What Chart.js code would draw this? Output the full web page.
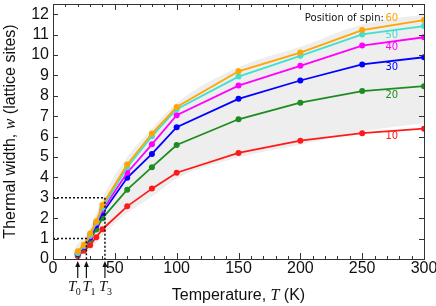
<!DOCTYPE html>
<html>
<head>
<meta charset="utf-8">
<script src="https://cdn.jsdelivr.net/npm/chart.js@4.4.1/dist/chart.umd.min.js"></script>
<style>
html,body{margin:0;padding:0;background:#fff;}
</style>
</head>
<body>
<canvas id="thermalChart" width="436" height="306"></canvas>
<script>

/* ==========================================
   DATA
========================================== */

const temps = [20,25,30,35,40,60,80,100,150,200,250,300];

const spin10 = [0.15,0.40,0.68,1.07,1.46,2.58,3.45,4.23,5.20,5.80,6.17,6.39];
const spin20 = [0.22,0.55,0.95,1.45,2.00,3.40,4.50,5.59,6.85,7.66,8.23,8.47];
const spin30 = [0.25,0.60,1.05,1.65,2.25,3.98,5.15,6.46,7.85,8.75,9.54,9.89];
const spin40 = [0.28,0.62,1.10,1.75,2.40,4.23,5.62,7.05,8.50,9.47,10.46,10.87];
const spin50 = [0.30,0.65,1.15,1.80,2.50,4.50,6.02,7.34,8.94,9.96,11.01,11.42];
const spin60 = [0.38,0.70,1.25,1.85,2.65,4.63,6.15,7.45,9.20,10.12,11.22,11.71];

const spinNames = ["10","20","30","40","50","60"];
const spinLabelY = [5.99,8.03,9.39,10.36,10.95,11.77];

// gray band (range)
const bandTemps = [18,30,40,60,80,100,150,200,250,300];
const bandLow  = [0.05,0.45,1.15,2.25,3.05,3.95,4.98,5.60,6.25,6.65];
const bandHigh = [0.60,1.55,3.00,5.00,6.40,7.65,9.40,10.40,11.50,12.00];

// characteristic temperatures
const markNames = ["0","1","3"];
const markTemps = [20,27,42];
const markWidths = [null,1,3];

const xTicks = [0,50,100,150,200,250,300];
const yTicks = [0,1,2,3,4,5,6,7,8,9,10,11,12];

/* ==========================================
   HELPERS
========================================== */

const colors = ["#ff1a1a","#1f8c1f","#0000ff","#ff00ff","#40e0d0","#ffa500"];

// label nudges so T0 / T1 do not collide
const markShift = [-3,3,1];

function pts(xs,ys){

    return xs.map((x,i)=>({x:x,y:ys[i]}));

}

function spinSet(values,i){

    return {

        data:pts(temps,values),

        borderColor:colors[i],

        backgroundColor:colors[i],

        borderWidth:1.8,

        pointRadius:3,

        pointBorderWidth:0,

        order:6-i

    };

}

function dottedSet(points){

    return {

        data:points,

        borderColor:"#111",

        borderWidth:1.5,

        borderDash:[2,2],

        pointRadius:0,

        order:0

    };

}

function noPad(scale){

    scale.paddingTop = 0;
    scale.paddingBottom = 0;
    scale.paddingLeft = 0;
    scale.paddingRight = 0;

}

const datasets = [];

// =============================
// BAND
// =============================

datasets.push({
    data:pts(bandTemps,bandLow),
    borderWidth:0,
    pointRadius:0,
    fill:false,
    cubicInterpolationMode:"monotone",
    order:20
});

datasets.push({
    data:pts(bandTemps,bandHigh),
    borderWidth:0,
    pointRadius:0,
    fill:"-1",
    backgroundColor:"#eeeeee",
    cubicInterpolationMode:"monotone",
    order:19
});

// =============================
// SPIN SERIES
// =============================

[spin10,spin20,spin30,spin40,spin50,spin60].forEach((s,i)=>{

    datasets.push(spinSet(s,i));

});

// =============================
// DOTTED GUIDES
// =============================

markWidths.forEach((w,i)=>{

    if(w===null) return;

    datasets.push(dottedSet([
        {x:0,y:w},
        {x:markTemps[i],y:w},
        {x:markTemps[i],y:0}
    ]));

});

/* ==========================================
   FRAME, TICKS, TITLES, LABELS
========================================== */

const decor = {

    id:"decor",

    afterDraw(chart){

        const ctx = chart.ctx;
        const a = chart.chartArea;
        const x = chart.scales.x;
        const y = chart.scales.y;

        ctx.save();

        ctx.strokeStyle = "#333";
        ctx.lineWidth = 1;

        ctx.strokeRect(Math.round(a.left)+0.5,Math.round(a.top)+0.5,
            Math.round(a.right-a.left),Math.round(a.bottom-a.top));

        ctx.beginPath();

        for(let t=0;t<=300;t+=10){

            const px = Math.round(x.getPixelForValue(t))+0.5;
            const len = t%50===0 ? 6 : 3;

            ctx.moveTo(px,a.bottom);
            ctx.lineTo(px,a.bottom-len);
            ctx.moveTo(px,a.top);
            ctx.lineTo(px,a.top+len);

        }

        yTicks.forEach(w=>{

            const py = Math.round(y.getPixelForValue(w))+0.5;

            ctx.moveTo(a.left,py);
            ctx.lineTo(a.left+5,py);
            ctx.moveTo(a.right,py);
            ctx.lineTo(a.right-5,py);

        });

        ctx.stroke();

        // =============================
        // AXIS TITLES
        // =============================

        ctx.fillStyle = "#111";
        ctx.textBaseline = "alphabetic";

        const sans = "16px 'Liberation Sans', Arial, sans-serif";
        const serifIt = "italic 16px 'Liberation Serif', 'Times New Roman', serif";

        function mixed(parts,cx,cy){

            let total = 0;

            parts.forEach(p=>{
                ctx.font = p[1];
                total += ctx.measureText(p[0]).width;
            });

            let cur = cx-total/2;

            parts.forEach(p=>{
                ctx.font = p[1];
                ctx.fillText(p[0],cur,cy);
                cur += ctx.measureText(p[0]).width;
            });

        }

        ctx.textAlign = "left";

        mixed([
            ["Temperature, ",sans],
            ["T",serifIt],
            [" (K)",sans]
        ],(a.left+a.right)/2,300);

        ctx.save();
        ctx.translate(15,(a.top+a.bottom)/2);
        ctx.rotate(-Math.PI/2);

        mixed([
            ["Thermal width, ",sans],
            ["w",serifIt],
            [" (lattice sites)",sans]
        ],0,0);

        ctx.restore();

        // =============================
        // T MARKERS
        // =============================

        ctx.strokeStyle = "#111";
        ctx.fillStyle = "#111";
        ctx.lineWidth = 1.2;

        markTemps.forEach((t,i)=>{

            const px = x.getPixelForValue(t);

            ctx.beginPath();
            ctx.moveTo(px,278);
            ctx.lineTo(px,265);
            ctx.stroke();

            ctx.beginPath();
            ctx.moveTo(px,261);
            ctx.lineTo(px-2.5,267);
            ctx.lineTo(px+2.5,267);
            ctx.closePath();
            ctx.fill();

            const lx = px+markShift[i];

            ctx.font = "italic 15px 'Liberation Serif', serif";
            ctx.textAlign = "right";
            ctx.fillText("T",lx+1.5,291);

            ctx.font = "10px 'Liberation Serif', serif";
            ctx.textAlign = "left";
            ctx.fillText(markNames[i],lx+1,295);

        });

        // =============================
        // SPIN LABELS
        // =============================

        ctx.font = "10px 'DejaVu Sans', sans-serif";
        ctx.textBaseline = "middle";

        const sx = x.getPixelForValue(274);

        spinNames.forEach((name,i)=>{

            ctx.fillStyle = colors[i];
            ctx.textAlign = "center";
            ctx.fillText(name,sx,y.getPixelForValue(spinLabelY[i]));

        });

        ctx.fillStyle = "#111";
        ctx.textAlign = "right";
        ctx.fillText("Position of spin:",sx-8,y.getPixelForValue(spinLabelY[5]));

        ctx.restore();

    }

};

/* ==========================================
   CHART
========================================== */

new Chart(document.getElementById("thermalChart"),{

    type:"line",

    data:{datasets},

    options:{

        responsive:false,

        animation:false,

        layout:{
            padding:{top:2,right:12,left:0,bottom:0}
        },

        plugins:{
            legend:{display:false},
            tooltip:{enabled:false}
        },

        scales:{

            x:{

                type:"linear",

                min:0,

                max:300,

                afterBuildTicks(scale){
                    scale.ticks = xTicks.map(v=>({value:v}));
                },

                afterFit(scale){
                    scale.height = 47;
                    noPad(scale);
                },

                ticks:{
                    color:"#111",
                    padding:0,
                    maxRotation:0,
                    autoSkip:false,
                    font:{family:"'Liberation Sans', Arial, sans-serif",size:16}
                },

                grid:{display:false,drawTicks:false},

                border:{display:false}

            },

            y:{

                min:0,

                max:12.5,

                afterBuildTicks(scale){
                    scale.ticks = yTicks.map(v=>({value:v}));
                },

                afterFit(scale){
                    scale.width = 53;
                    noPad(scale);
                },

                ticks:{
                    color:"#111",
                    padding:4,
                    autoSkip:false,
                    font:{family:"'Liberation Sans', Arial, sans-serif",size:16}
                },

                grid:{display:false,drawTicks:false},

                border:{display:false}

            }

        }

    },

    plugins:[decor]

});

</script>
</body>
</html>
